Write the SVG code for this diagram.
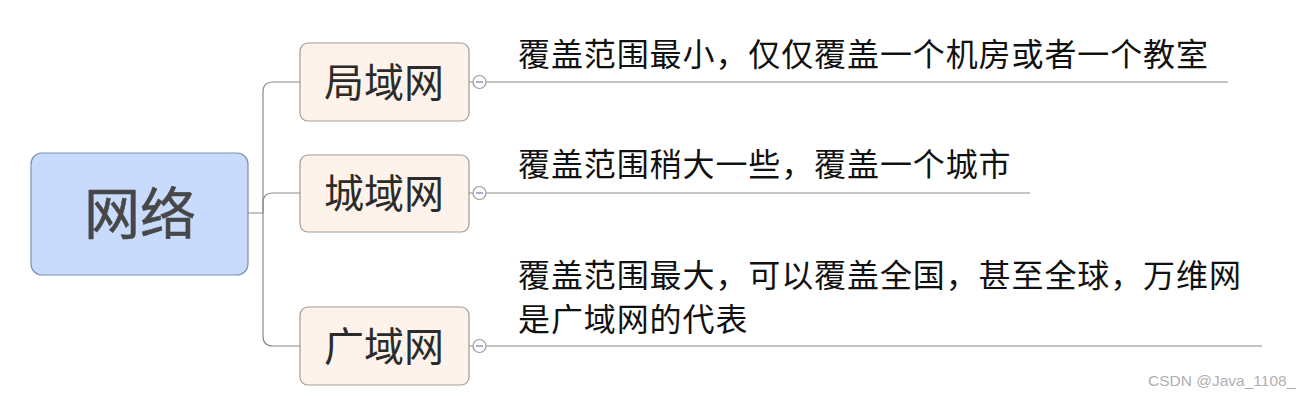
<svg xmlns="http://www.w3.org/2000/svg" width="1310" height="396" viewBox="0 0 1310 396">
<style>
.conn{fill:none;stroke:#8a8a8a;stroke-width:1.2}
.child rect{fill:#fdf3ea;stroke:#a39b94;stroke-width:1.2}
.lbl{font-family:"Liberation Serif","Noto Sans CJK SC",serif;font-size:40px;fill:#2b2b2b;text-anchor:middle}
.desc{font-family:"Liberation Serif","Noto Sans CJK SC",serif;font-size:32px;fill:#111;letter-spacing:0.9px}
.tog circle{fill:#fff;stroke:#9a9a9a;stroke-width:1.2}
.tog line{stroke:#6b7fa8;stroke-width:1.2}
</style>
<rect width="1310" height="396" fill="#fff"/>
<g id="connectors">
<path class="conn" d="M248,213 H263 V92 Q263,82 273,82 H300"/>
<path class="conn" d="M263,213 V203 Q263,193 273,193 H300"/>
<path class="conn" d="M263,213 V336 Q263,346 273,346 H300"/>
<path class="conn" d="M469,82 H473 M486,82 H1228"/>
<path class="conn" d="M469,193 H473 M486,193 H1030"/>
<path class="conn" d="M469,346 H473 M486,346 H1262"/>
</g>
<g id="root">
<rect x="31" y="153" width="217" height="122" rx="11" fill="#c9dbfc" stroke="#7d90b6" stroke-width="1.2"/>
<text x="140" y="234" font-family="Liberation Serif,'Noto Sans CJK SC',serif" font-size="56" fill="#474747" stroke="#474747" stroke-width="0.6" text-anchor="middle">网络</text>
</g>
<g id="lan" class="child">
<rect x="300" y="43" width="169" height="78" rx="8"/>
<text class="lbl" x="384" y="97">局域网</text>
<g class="tog"><circle cx="479.5" cy="82" r="6.5"/><line x1="476" y1="82" x2="483" y2="82"/></g>
<text class="desc" x="518" y="66">覆盖范围最小，仅仅覆盖一个机房或者一个教室</text>
</g>
<g id="man" class="child">
<rect x="300" y="155" width="169" height="77" rx="8"/>
<text class="lbl" x="384" y="208">城域网</text>
<g class="tog"><circle cx="479.5" cy="193" r="6.5"/><line x1="476" y1="193" x2="483" y2="193"/></g>
<text class="desc" x="518" y="176">覆盖范围稍大一些，覆盖一个城市</text>
</g>
<g id="wan" class="child">
<rect x="300" y="307" width="169" height="78" rx="8"/>
<text class="lbl" x="384" y="361">广域网</text>
<g class="tog"><circle cx="479.5" cy="346" r="6.5"/><line x1="476" y1="346" x2="483" y2="346"/></g>
<text class="desc" x="518" y="287">覆盖范围最大，可以覆盖全国，甚至全球，万维网</text>
<text class="desc" x="518" y="331">是广域网的代表</text>
</g>
<text x="1148" y="386" font-family="Liberation Sans,sans-serif" font-size="15.5" fill="#b0b0b0">CSDN @Java_1108_</text>
</svg>
